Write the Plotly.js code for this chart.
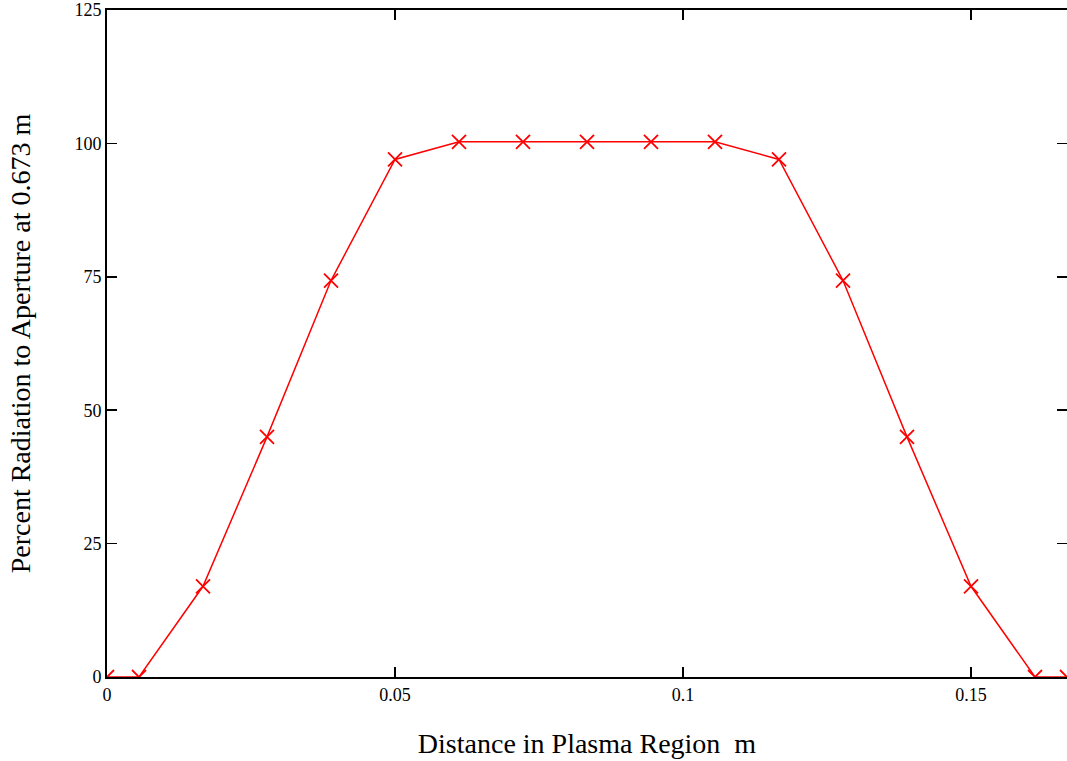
<!DOCTYPE html>
<html>
<head>
<meta charset="utf-8">
<script src="https://cdn.plot.ly/plotly-3.0.1.min.js"></script>
<style>html,body{margin:0;padding:0;background:#fff;}#chart{width:1067px;height:761px;}</style>
</head>
<body>
<div id="chart"></div>
<script>
const distance = [0, 0.005556, 0.016667, 0.027778, 0.038889, 0.05, 0.061111, 0.072222, 0.083333, 0.094444, 0.105556, 0.116667, 0.127778, 0.138889, 0.15, 0.161111, 0.166667];
const percent = [0, 0, 17.0, 45.0, 74.3, 97.0, 100.3, 100.3, 100.3, 100.3, 100.3, 97.0, 74.3, 45.0, 17.0, 0, 0];
const xTickVals = [0, 0.05, 0.1, 0.15];
const xTickText = ["0", "0.05", "0.1", "0.15"];
const yTickVals = [0, 25, 50, 75, 100, 125];
const yTickText = ["0", "25", "50", "75", "100", "125"];

const FAM = 'Liberation Serif';
const trace = {
  x: distance, y: percent, mode: 'lines+markers', type: 'scatter',
  line: {color: '#ff0000', width: 1.5},
  marker: {symbol: 'x-thin', size: 14, line: {color: '#ff0000', width: 1.8}, color: '#ff0000'},
  cliponaxis: true, showlegend: false
};
const layout = {
  width: 1067, height: 761,
  margin: {l: 107, r: 0, t: 10, b: 84},
  paper_bgcolor: '#fff', plot_bgcolor: '#fff',
  font: {family: FAM, color: '#000', size: 18},
  xaxis: {
    range: [0, 0.166667], tickvals: xTickVals, ticktext: xTickText,
    showgrid: false, zeroline: false, showline: true, linecolor: '#000', linewidth: 2,
    mirror: 'ticks', ticks: 'inside', ticklen: 10, tickwidth: 1.5, tickcolor: '#000',
    tickfont: {family: FAM, size: 18, color: '#000'},
    title: {text: 'Distance in Plasma Region  m', font: {family: FAM, size: 28, color: '#000'}, standoff: 30}
  },
  yaxis: {
    range: [0, 125], tickvals: yTickVals, ticktext: yTickText,
    showgrid: false, zeroline: false, showline: true, linecolor: '#000', linewidth: 2,
    mirror: 'ticks', ticks: 'inside', ticklen: 10, tickwidth: 1.5, tickcolor: '#000',
    tickfont: {family: FAM, size: 18, color: '#000'},
    ticklabelstandoff: 0,
    title: {text: 'Percent Radiation to Aperture at 0.673 m', font: {family: FAM, size: 28, color: '#000'}, standoff: 36}
  }
};
Plotly.newPlot('chart', [trace], layout, {displayModeBar: false, staticPlot: true});
</script>
</body>
</html>
